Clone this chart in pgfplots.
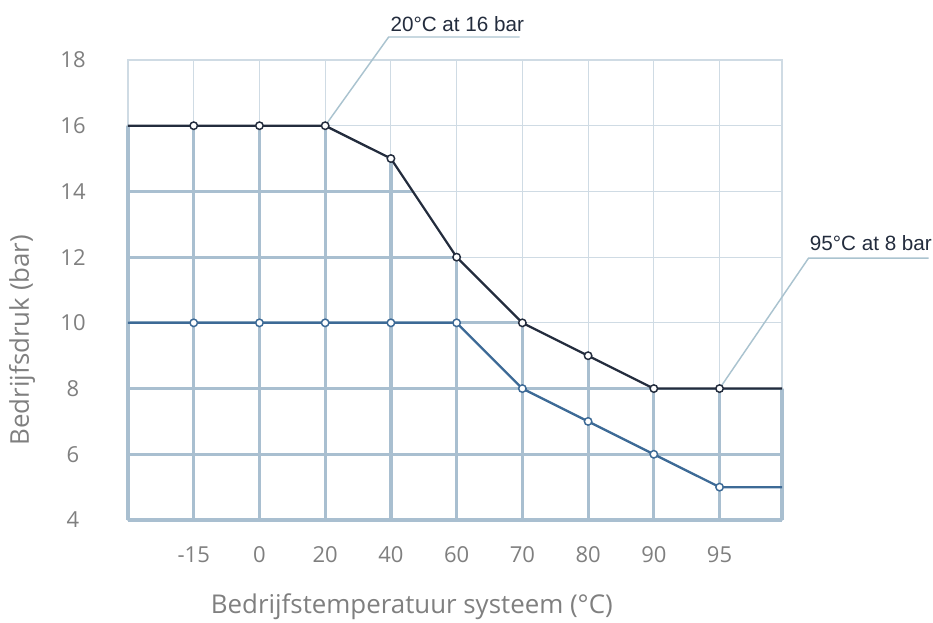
\documentclass[border=0pt]{standalone}
\usepackage{pgfplots}
\pgfplotsset{compat=1.18}
\usepackage{pgfplotstable}
\usepackage{fontspec}
\setmainfont{Open Sans}
\newfontfamily\arialf{Liberation Sans}
\definecolor{darkline}{HTML}{232C3D}
\definecolor{blueline}{HTML}{3D6A96}
\definecolor{gridthick}{HTML}{A9BFD0}
\definecolor{gridthin}{HTML}{CFDBE4}
\definecolor{ticktext}{HTML}{7F7F7F}
\definecolor{leader}{HTML}{AAC3CF}

\pgfplotstableread{
x y
-1 16
0 16
1 16
2 16
3 15
4 12
5 10
6 9
7 8
8 8
8.95 8
}\darkdata
\pgfplotstableread{
x y
-1 10
0 10
1 10
2 10
3 10
4 10
5 8
6 7
7 6
8 5
8.95 5
}\bluedata

\begin{document}
\begin{tikzpicture}
\useasboundingbox (-96pt,-77.25pt) rectangle (603.75pt,390pt);
\begin{axis}[
 at={(0,0)}, anchor=south west,
 scale only axis, width=490.5pt, height=345pt,
 xmin=-1, xmax=8.95, ymin=4, ymax=18,
 xtick={0,1,2,3,4,5,6,7,8}, xticklabels={-15,0,20,40,60,70,80,90,95},
 ytick={4,6,8,10,12,14,16,18},
 /pgf/number format/assume math mode=true,
 grid=major, major grid style={gridthin, line width=0.8pt},
 axis line style={gridthin, line width=0.8pt},
 tick style={draw=none},
 ticklabel style={font=\fontsize{16.5}{18}\selectfont, text=ticktext},
 xticklabel style={anchor=center, yshift=-26.25pt},
 yticklabel style={anchor=center, xshift=-41.25pt},
 clip=false,
 xlabel={Bedrijfstemperatuur systeem (°C)},
 ylabel={Bedrijfsdruk (bar)},
 label style={font=\fontsize{19.4}{21}\selectfont, text=ticktext},
 xlabel style={at={(rel axis cs:0.434,-0.189)}, anchor=center},
 ylabel style={at={(rel axis cs:-0.162,0.391)}, anchor=center},
]
\begin{scope}
\clip (axis cs:-1.1,3.9) -- (axis cs:-1.1,16) -- (axis cs:2,16) -- (axis cs:3,15) -- (axis cs:4,12) -- (axis cs:5,10) -- (axis cs:6,9) -- (axis cs:7,8) -- (axis cs:9.05,8) -- (axis cs:9.05,3.9) -- cycle;
\pgfplotsinvokeforeach{-1,0,1,2,3,4,5,6,7,8,8.95}{
  \draw[gridthick, line width=2.4pt] (axis cs:#1,4) -- (axis cs:#1,18);
}
\pgfplotsinvokeforeach{4,6,8,10,12,14,16}{
  \draw[gridthick, line width=2.4pt] (axis cs:-1,#1) -- (axis cs:8.95,#1);
}
\end{scope}
\draw[leader, line width=1.1pt] (axis cs:2,16) -- (axis cs:2.966,18.70) -- (axis cs:4.958,18.70);
\draw[leader, line width=1.1pt] (axis cs:8,8) -- (axis cs:9.354,11.97) -- (axis cs:11.18,11.97);
\node[anchor=base west, font=\arialf\fontsize{15.5}{17}\selectfont, text=darkline, inner sep=0pt] at (axis cs:2.99,18.88) {20°C at 16 bar};
\node[anchor=base west, font=\arialf\fontsize{15.5}{17}\selectfont, text=darkline, inner sep=0pt] at (axis cs:9.37,12.19) {95°C at 8 bar};
\addplot[blueline, line width=1.7pt, mark=*, mark indices={2,3,4,5,6,7,8,9,10}, mark options={fill=white, draw=blueline, line width=1.1pt, solid}, mark size=2.8pt] table {\bluedata};
\addplot[darkline, line width=1.7pt, mark=*, mark indices={2,3,4,5,6,7,8,9,10}, mark options={fill=white, draw=darkline, line width=1.1pt, solid}, mark size=2.8pt] table {\darkdata};
\end{axis}
\end{tikzpicture}
\end{document}
